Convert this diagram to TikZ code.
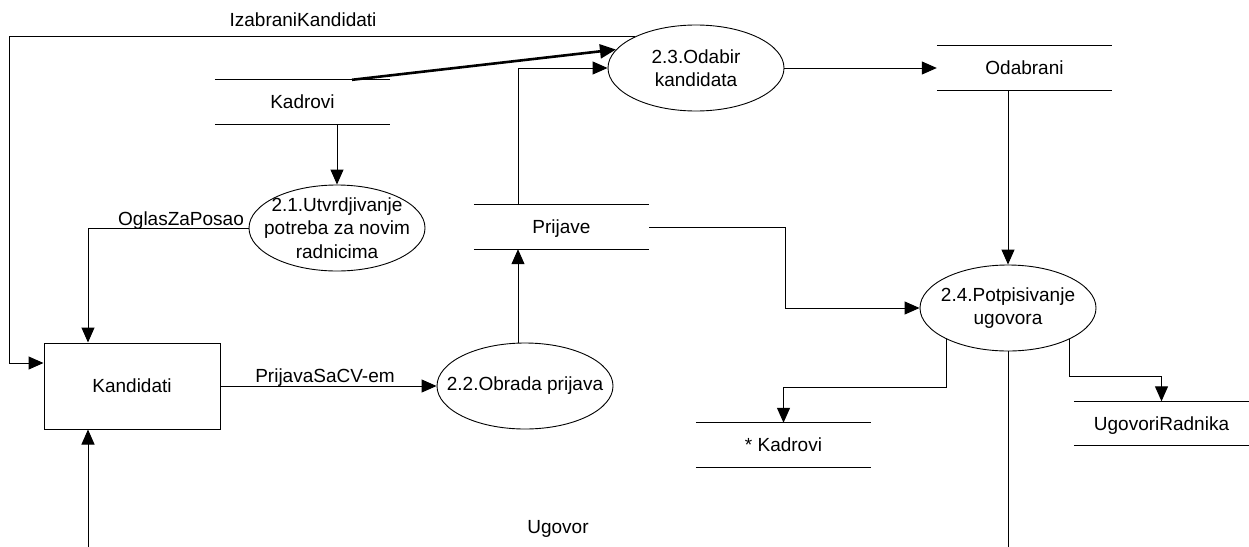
\documentclass[tikz,border=0pt]{standalone}
\usepackage{fontspec}
\setmainfont{Liberation Sans}
\usetikzlibrary{shapes.geometric,arrows.meta}
\tikzset{
	proces/.style={ellipse,draw,line width=0.9pt,minimum width=176pt,minimum height=86pt,inner xsep=-20pt,inner ysep=-10pt,align=center},
	skladiste/.style={minimum width=175pt,minimum height=44pt,inner sep=0pt,text height=13.6pt,text depth=0pt,
		append after command={(\tikzlastnode.north west) edge[-,line width=1pt] (\tikzlastnode.north east) (\tikzlastnode.south west) edge[-,line width=1pt] (\tikzlastnode.south east)}},
	entitet/.style={rectangle,draw,line width=1pt,minimum width=176pt,minimum height=86pt,text height=13.6pt,text depth=0pt},
	tok/.style={draw,line width=1pt,-{Triangle[length=15pt,width=13pt]}},
	debeli/.style={line width=2.6pt,-{Triangle[length=16pt,width=14pt]}},
	oznaka/.style={anchor=base}
}
\begin{document}
\begin{tikzpicture}[x=1pt,y=-1pt,every node/.style={font=\fontsize{19}{23.5}\selectfont}]
	\useasboundingbox (0,0) rectangle (1249,546);
	\clip (0,0) rectangle (1249,546);
	\coordinate (lijevo) at (9,0);
	\coordinate (dno) at (0,570);
	\node [entitet] (kandidati) at (132,386) {Kandidati};
	\node [proces] (p21) at (337,228) {2.1.Utvrdjivanje\\potreba za novim\\radnicima};
	\node [proces] (p22) at (525,386) {2.2.Obrada prijava};
	\node [proces] (p23) at (696,68) {2.3.Odabir\\kandidata};
	\node [proces] (p24) at (1008,308) {2.4.Potpisivanje\\ugovora};
	\node [skladiste] (kadrovi) at (302.5,102) {Kadrovi};
	\node [skladiste] (prijave) at (561.5,227) {Prijave};
	\node [skladiste] (odabrani) at (1024.5,68) {Odabrani};
	\node [skladiste] (kadrovi2) at (783.5,445) {* Kadrovi};
	\node [skladiste] (ugovori) at (1161.5,423.5) {UgovoriRadnika};
	\draw [tok] (p23.153) -- (p23.153 -| lijevo) |- ([yshift=23pt]kandidati.west);
	\draw [tok,debeli] ([xshift=49.5pt]kadrovi.north) -- (p23.167);
	\draw [tok] (kadrovi.south -| p21.north) -- (p21.north);
	\draw [tok] (p21.west) -| ([xshift=-44pt]kandidati.north);
	\draw [tok] (kandidati.east) -- (p22.west);
	\draw [tok] ([xshift=-7pt]p22.north) -- ([xshift=-7pt]p22.north |- prijave.south);
	\draw [tok] ([xshift=-43.5pt]prijave.north) |- (p23.west);
	\draw [tok] (p23.east) -- (odabrani.west);
	\draw [tok] (odabrani.south -| p24.north) -- (p24.north);
	\draw [tok] (prijave.east) -- ++(136,0) |- (p24.west);
	\draw [tok] (p24.207) -- ++(0,48) -| (kadrovi2.north);
	\draw [tok] (p24.333) -- ++(0,37) -| (ugovori.north);
	\draw [tok] (p24.south) -- (p24.south |- dno) -| ([xshift=-44pt]kandidati.south);
	\node [oznaka] (lIzabrani) at (303,27) {IzabraniKandidati};
	\node [oznaka] (lOglas) at (181,225) {OglasZaPosao};
	\node [oznaka] (lPrijava) at (325,382) {PrijavaSaCV-em};
	\node [oznaka] (lUgovor) at (558,533) {Ugovor};
\end{tikzpicture}
\end{document}
